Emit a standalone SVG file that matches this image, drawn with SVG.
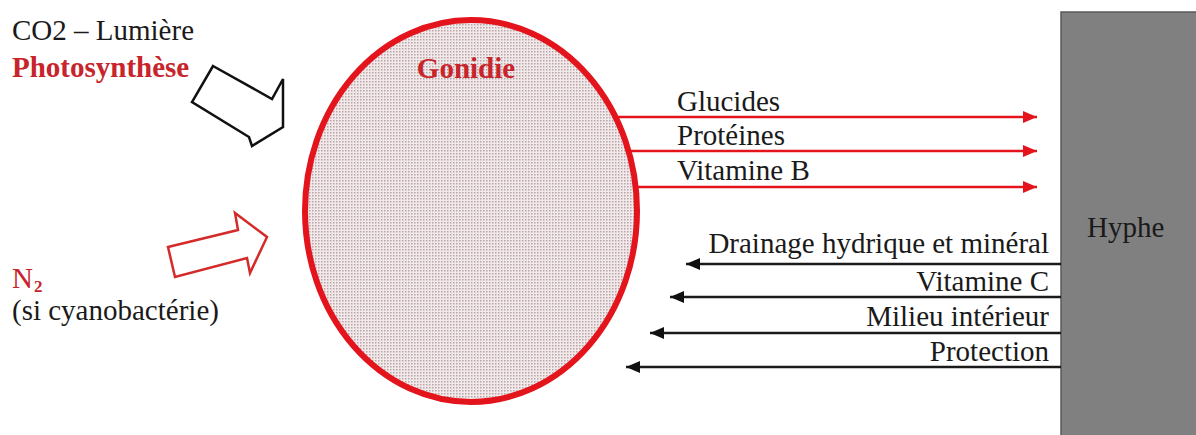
<svg xmlns="http://www.w3.org/2000/svg" width="1196" height="435" viewBox="0 0 1196 435">
  <style>
    text { font-family: 'Liberation Serif', 'Times New Roman', Times, 'DejaVu Serif', serif; font-size: 29px; fill: #1a1a1a; }
    .red { fill: #C8242B; }
    .b { font-weight: bold; }
    .out { stroke: #E3141C; stroke-width: 2.5; fill: none; }
    .in { stroke: #1a1a1a; stroke-width: 2.5; fill: none; }
  </style>
  <defs>
    <pattern id="dots" width="3" height="3" patternUnits="userSpaceOnUse">
      <rect width="3" height="3" fill="#F2E9EA"/>
      <rect width="1.5" height="1.5" fill="#B9A3A6"/>
    </pattern>
    <marker id="ahRed" markerUnits="userSpaceOnUse" markerWidth="15" markerHeight="13" refX="14" refY="6" orient="auto">
      <path d="M0,0 L14,6 L0,12 z" fill="#E3141C"/>
    </marker>
    <marker id="ahBlack" markerUnits="userSpaceOnUse" markerWidth="15" markerHeight="13" refX="14" refY="6" orient="auto">
      <path d="M0,0 L14,6 L0,12 z" fill="#111"/>
    </marker>
  </defs>
  <rect width="1196" height="435" fill="#ffffff"/>

  <g id="inputs-left">
    <text x="12" y="40">CO2 – Lumière</text>
    <text class="red b" x="12" y="77">Photosynthèse</text>
    <polygon points="213,66 272,99 283,79 283,127 252,146 249,137 192,102" fill="#fff" stroke="#111" stroke-width="2.5"/>
    <polygon points="168,247 238,230 235,213 267,237 250,273 247,258 175,277" fill="#fff" stroke="#D42A2A" stroke-width="2.5"/>
    <text class="red" x="12" y="288">N</text>
    <text class="red b" x="34" y="292" style="font-size:17px">2</text>
    <text x="12" y="320">(si cyanobactérie)</text>
  </g>

  <g id="gonidie">
    <ellipse cx="471" cy="211" rx="166" ry="191" fill="url(#dots)" stroke="#E3141C" stroke-width="6"/>
    <text class="red b" x="466" y="78" text-anchor="middle">Gonidie</text>
  </g>

  <g id="hyphe">
    <rect x="1061" y="12" width="137" height="430" fill="#808080" stroke="#5a5a5a" stroke-width="1.5"/>
    <text x="1087" y="237">Hyphe</text>
  </g>

  <g id="connectors">
    <line class="out" x1="615" y1="117" x2="1037" y2="117" marker-end="url(#ahRed)"/>
    <line class="out" x1="628" y1="151" x2="1037" y2="151" marker-end="url(#ahRed)"/>
    <line class="out" x1="635" y1="187" x2="1037" y2="187" marker-end="url(#ahRed)"/>
    <line class="in" x1="1061" y1="264" x2="686" y2="264" marker-end="url(#ahBlack)"/>
    <line class="in" x1="1061" y1="297" x2="670" y2="297" marker-end="url(#ahBlack)"/>
    <line class="in" x1="1061" y1="333" x2="650" y2="333" marker-end="url(#ahBlack)"/>
    <line class="in" x1="1061" y1="367" x2="626" y2="367" marker-end="url(#ahBlack)"/>
  </g>

  <g id="labels">
    <text x="677" y="111">Glucides</text>
    <text x="677" y="145">Protéines</text>
    <text x="677" y="180">Vitamine B</text>
    <text x="1049" y="253" text-anchor="end">Drainage hydrique et minéral</text>
    <text x="1049" y="291" text-anchor="end">Vitamine C</text>
    <text x="1049" y="326" text-anchor="end">Milieu intérieur</text>
    <text x="1049" y="361" text-anchor="end">Protection</text>
  </g>
</svg>
